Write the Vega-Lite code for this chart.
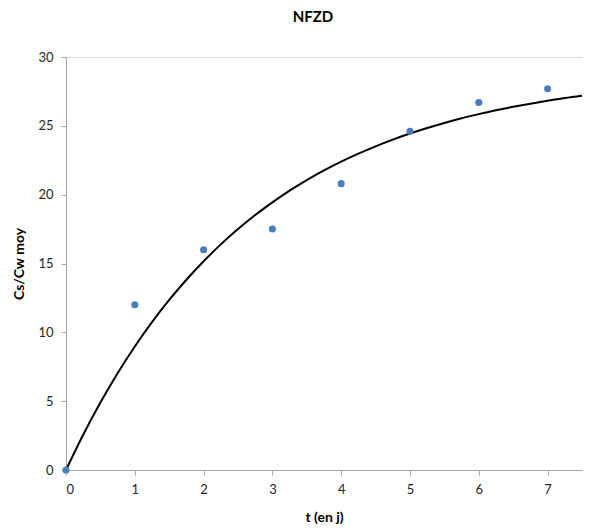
{
  "$schema": "https://vega.github.io/schema/vega-lite/v6.json",
  "autosize": "none",
  "width": 516,
  "height": 413,
  "padding": {"left": 66, "top": 57, "right": 7, "bottom": 62},
  "background": "white",
  "config": {
    "view": {"stroke": null},
    "font": "Lato",
    "axis": {
      "domainColor": "#a6a6a6",
      "tickColor": "#a6a6a6",
      "labelColor": "#262626",
      "labelFontSize": 13,
      "titleFontSize": 14,
      "titleFontWeight": "bold",
      "titleColor": "#000000",
      "labelFont": "Lato",
      "titleFont": "Lato"
    }
  },
  "title": {"text": "NFZD", "fontSize": 15, "fontWeight": "bold", "font": "Lato", "color": "#000000", "offset": 26, "anchor": "middle", "dx": -11},
  "datasets": {
    "obs": [
      {"t": 0, "c": 0}, {"t": 1, "c": 12}, {"t": 2, "c": 16}, {"t": 3, "c": 17.5},
      {"t": 4, "c": 20.8}, {"t": 5, "c": 24.6}, {"t": 6, "c": 26.7}, {"t": 7, "c": 27.7}
    ],
    "fit": [
      {"t": 0, "c": 0}, {"t": 0.25, "c": 2.56}, {"t": 0.5, "c": 4.9}, {"t": 0.75, "c": 7.03},
      {"t": 1, "c": 8.97}, {"t": 1.25, "c": 10.74}, {"t": 1.5, "c": 12.35}, {"t": 1.75, "c": 13.82},
      {"t": 2, "c": 15.16}, {"t": 2.25, "c": 16.39}, {"t": 2.5, "c": 17.5}, {"t": 2.75, "c": 18.52},
      {"t": 3, "c": 19.44}, {"t": 3.25, "c": 20.29}, {"t": 3.5, "c": 21.06}, {"t": 3.75, "c": 21.76},
      {"t": 4, "c": 22.4}, {"t": 4.25, "c": 22.98}, {"t": 4.5, "c": 23.51}, {"t": 4.75, "c": 24.0},
      {"t": 5, "c": 24.44}, {"t": 5.25, "c": 24.84}, {"t": 5.5, "c": 25.21}, {"t": 5.75, "c": 25.55},
      {"t": 6, "c": 25.85}, {"t": 6.25, "c": 26.13}, {"t": 6.5, "c": 26.38}, {"t": 6.75, "c": 26.61},
      {"t": 7, "c": 26.82}, {"t": 7.25, "c": 27.02}, {"t": 7.5, "c": 27.19}
    ]
  },
  "encoding": {
    "x": {
      "field": "t", "type": "quantitative",
      "scale": {"domain": [0, 7.5], "nice": false},
      "axis": {"title": "t (en j)", "values": [0,1,2,3,4,5,6,7], "grid": false, "tickSize": 5, "labelPadding": 8, "titlePadding": 14}
    },
    "y": {
      "field": "c", "type": "quantitative",
      "scale": {"domain": [0, 30], "nice": false},
      "axis": {
        "title": "Cs/Cw moy", "values": [0,5,10,15,20,25,30], "tickSize": 5, "labelPadding": 8, "titlePadding": 11,
        "grid": true, "gridColor": "#d9d9d9",
        "gridOpacity": {"condition": {"test": "datum.value === 30", "value": 1}, "value": 0}
      }
    }
  },
  "layer": [
    {
      "data": {"name": "fit"},
      "mark": {"type": "line", "color": "#000000", "strokeWidth": 2, "interpolate": "monotone"}
    },
    {
      "data": {"name": "obs"},
      "mark": {"type": "circle", "color": "#4a7ebb", "opacity": 1, "size": 50}
    }
  ]
}
